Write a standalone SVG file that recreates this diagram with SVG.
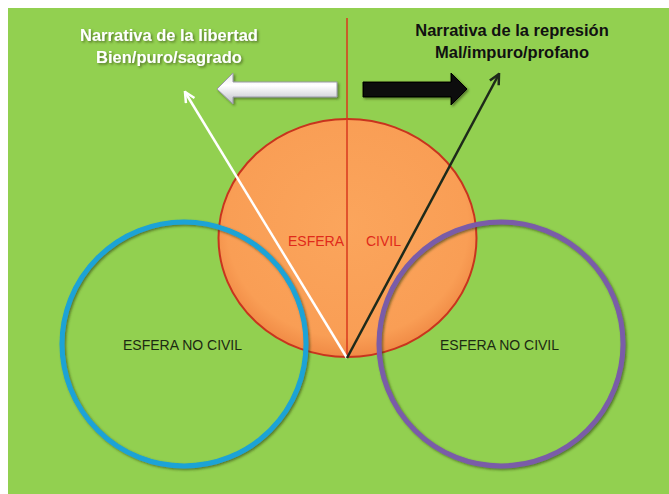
<svg xmlns="http://www.w3.org/2000/svg" width="669" height="494" viewBox="0 0 669 494">
  <style>
    .hdr { font-family: "Liberation Sans", Arial, sans-serif; font-weight: bold; font-size: 16.5px; text-anchor: middle; }
    .lbl { font-family: "Liberation Sans", Arial, sans-serif; font-size: 14px; }
    .ring { fill: none; stroke-width: 5; }
  </style>
  <defs>
    <radialGradient id="orangeG" cx="50%" cy="45%" r="55%">
      <stop offset="0" stop-color="#FBA55C"/>
      <stop offset="0.85" stop-color="#F99E55"/>
      <stop offset="1" stop-color="#F08A45"/>
    </radialGradient>
    <linearGradient id="whiteArrowG" x1="0" y1="0" x2="0" y2="1">
      <stop offset="0" stop-color="#E8E8E8"/>
      <stop offset="0.4" stop-color="#FFFFFF"/>
      <stop offset="1" stop-color="#BDBDC8"/>
    </linearGradient>
    <filter id="shadow" x="-20%" y="-20%" width="140%" height="140%">
      <feDropShadow dx="1.5" dy="1.5" stdDeviation="1.2" flood-color="#2a3a10" flood-opacity="0.6"/>
    </filter>
    <marker id="headW" viewBox="0 0 10 10" refX="9" refY="5" markerWidth="5" markerHeight="5" orient="auto" markerUnits="strokeWidth">
      <path d="M1,1 L9,5 L1,9" fill="none" stroke="#FFFFFF" stroke-width="2"/>
    </marker>
    <marker id="headK" viewBox="0 0 10 10" refX="9" refY="5" markerWidth="5" markerHeight="5" orient="auto" markerUnits="strokeWidth">
      <path d="M1,1 L9,5 L1,9" fill="none" stroke="#1E2A1A" stroke-width="2"/>
    </marker>
  </defs>

  <rect x="0" y="0" width="669" height="494" fill="#FFFFFF"/>
  <rect x="8" y="8" width="661" height="486" fill="#92D050"/>

  <g id="esfera-civil">
    <ellipse cx="347.5" cy="238" rx="129" ry="119" fill="url(#orangeG)" stroke="#C8341E" stroke-width="2"/>
    <text class="lbl" x="288" y="246" fill="#E02A1A">ESFERA</text>
    <text class="lbl" x="366" y="246" fill="#E02A1A">CIVIL</text>
  </g>

  <g id="esfera-no-civil-izq">
    <circle class="ring" cx="184" cy="344" r="122" stroke="#1AA3D6" filter="url(#shadow)"/>
    <text class="lbl" x="123" y="350" fill="#1C2A12">ESFERA NO CIVIL</text>
  </g>

  <g id="esfera-no-civil-der">
    <circle class="ring" cx="501" cy="344" r="122" stroke="#7A5CA8" filter="url(#shadow)"/>
    <text class="lbl" x="440" y="350" fill="#1C2A12">ESFERA NO CIVIL</text>
  </g>

  <g id="narrativa-libertad">
    <text class="hdr" x="169" y="41" fill="#FFFFFF" filter="url(#shadow)">Narrativa de la libertad</text>
    <text class="hdr" x="169" y="63" fill="#FFFFFF" filter="url(#shadow)">Bien/puro/sagrado</text>
  </g>

  <g id="narrativa-represion">
    <text class="hdr" x="512" y="36" fill="#111111">Narrativa de la represión</text>
    <text class="hdr" x="512" y="58" fill="#111111">Mal/impuro/profano</text>
  </g>

  <g id="connectors">
    <line x1="347" y1="18" x2="347" y2="358" stroke="#D9381E" stroke-width="1.5"/>
    <line x1="347" y1="358" x2="185" y2="92" stroke="#FFFFFF" stroke-width="2.5" marker-end="url(#headW)"/>
    <line x1="347" y1="358" x2="499" y2="74" stroke="#1E2A1A" stroke-width="2.5" marker-end="url(#headK)"/>
    <path d="M337,82 L233,82 L233,73 L217,89 L233,104 L233,97 L337,97 Z" fill="url(#whiteArrowG)" stroke="#9A9AA8" stroke-width="1" filter="url(#shadow)"/>
    <path d="M363,82 L451,82 L451,73 L467,89 L451,105 L451,97 L363,97 Z" fill="#0A0A0A" stroke="#000000" stroke-width="1" filter="url(#shadow)"/>
  </g>
</svg>
